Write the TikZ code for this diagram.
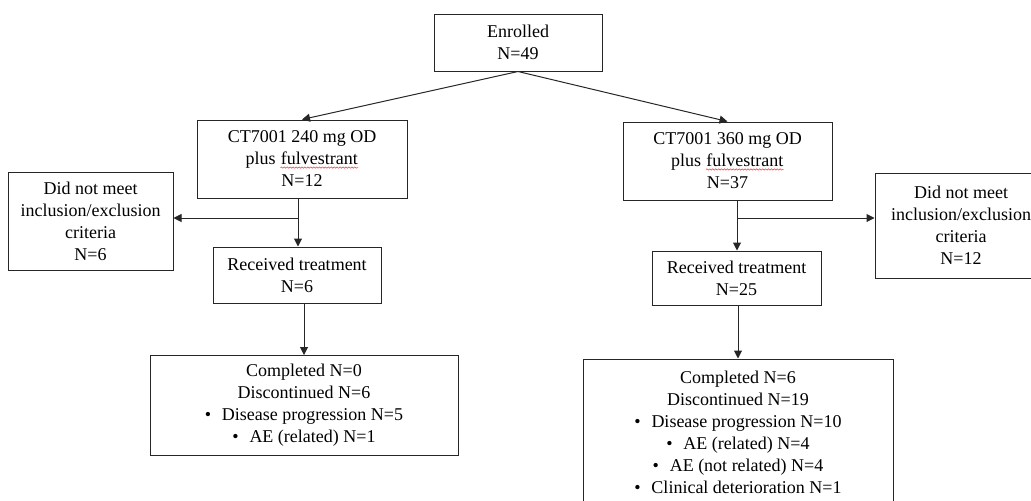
\documentclass[tikz,border=0pt]{standalone}
\usepackage{fontspec}
\setmainfont{Liberation Serif}
\usetikzlibrary{arrows.meta,decorations.pathmorphing}
\newcommand\spellwave[1]{\tikz[baseline=(w.base)]{\node[inner sep=0pt, minimum width=0pt, minimum height=0pt, draw=none] (w) {#1};
  \draw[red!80, line width=0.4pt, decorate, decoration={snake, amplitude=0.5pt, segment length=2.2pt}]
    ([yshift=-1.6pt]w.south west) -- ([yshift=-1.6pt]w.south east);}}
\tikzset{
  box/.style={draw=black!85, line width=0.75pt, align=center, inner sep=0pt,
    font=\fontsize{13.5}{16.5}\selectfont},
  arr/.style={draw=black!85, line width=0.75pt, -{Triangle[width=6pt,length=6pt]}},
  ln/.style={draw=black!85, line width=0.75pt}
}
\newcommand\bul{\textbullet\hspace{0.6em}}
\begin{document}
\begin{tikzpicture}[x=0.75pt, y=-0.75pt]
\useasboundingbox (0,0) rectangle (1031,500);
\node[box, minimum width=126pt, minimum height=42.75pt] (enrol) at (518,42.5) {Enrolled\\N=49};
\node[box, minimum width=157.5pt, minimum height=58.5pt] (arm1) at (302,159) {CT7001 240 mg OD\\plus \spellwave{fulvestrant}\\N=12};
\node[box, minimum width=156.75pt, minimum height=58.5pt] (arm2) at (727.5,161) {CT7001 360 mg OD\\plus \spellwave{fulvestrant}\\N=37};
\node[box, minimum width=123.75pt, minimum height=73.5pt] (excl1) at (90.5,221) {Did not meet\\inclusion/exclusion\\criteria\\N=6};
\node[box, minimum width=129pt, minimum height=78.75pt] (excl2) at (961,225.5) {Did not meet\\inclusion/exclusion\\criteria\\N=12};
\node[box, minimum width=126pt, minimum height=42pt] (recv1) at (297,275) {Received treatment\\N=6};
\node[box, minimum width=126.75pt, minimum height=40.5pt] (recv2) at (736.5,278) {Received treatment\\N=25};
\node[box, minimum width=231pt, minimum height=75pt] (done1) at (304,405.5) {Completed N=0\\Discontinued N=6\\\bul Disease progression N=5\\\bul AE (related) N=1};
\node[box, minimum width=232.5pt, minimum height=109.5pt] (done2) at (738,432) {Completed N=6\\Discontinued N=19\\\bul Disease progression N=10\\\bul AE (related) N=4\\\bul AE (not related) N=4\\\bul Clinical deterioration N=1};
\coordinate (split1) at (298,218);
\coordinate (split2) at (737,218);
\path
    (enrol.south) edge[arr] (arm1.north)
    (enrol.south) edge[arr] (arm2.north);
\draw[ln] (arm1.south -| split1) -- (split1);
\draw[arr] (split1) -- (split1 |- recv1.north);
\draw[arr] (split1) -- (split1 -| excl1.east);
\draw[ln] (arm2.south -| split2) -- (split2);
\draw[arr] (split2) -- (split2 |- recv2.north);
\draw[arr] (split2) -- (split2 -| excl2.west);
\draw[arr] (recv1.south -| done1) -- (done1.north);
\draw[arr] (recv2.south -| done2) -- (done2.north);
\end{tikzpicture}
\end{document}
